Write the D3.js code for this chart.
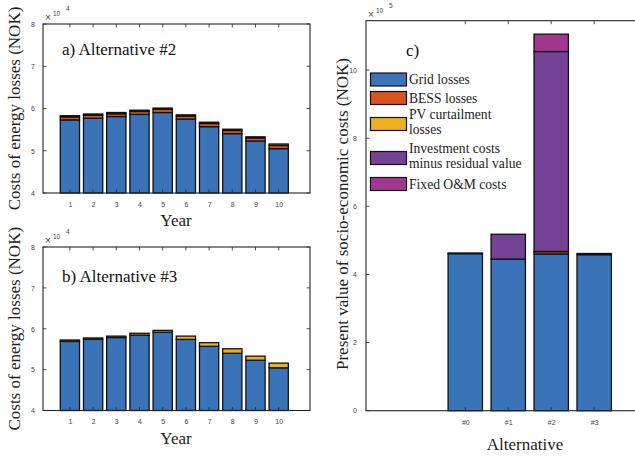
<!DOCTYPE html>
<html>
<head>
<meta charset="utf-8">
<script src="https://cdn.jsdelivr.net/npm/d3@7"></script>
<style>
  html, body { margin: 0; padding: 0; background: #fff; }
  svg { display: block; }
</style>
</head>
<body>
<svg id="chart" width="635" height="459"></svg>
<script>
// ---- data (NOK) ----
const years = [1, 2, 3, 4, 5, 6, 7, 8, 9, 10];

// Alternative #2, yearly energy-loss costs
const alt2Grid = [57300, 57700, 58100, 58600, 59050, 57500, 55700, 54050, 52300, 50500];
const alt2Bess = [700, 700, 650, 700, 750, 700, 750, 750, 700, 750];
const alt2Pv   = [300, 300, 300, 300, 300, 300, 300, 300, 300, 350];

// Alternative #3, yearly energy-loss costs
const alt3Grid = [56900, 57400, 57850, 58450, 59150, 57400, 55700, 54000, 52300, 50450];
const alt3Bess = [0, 0, 0, 0, 0, 0, 0, 0, 0, 0];
const alt3Pv   = [350, 350, 350, 450, 450, 800, 900, 1100, 1000, 1150];

// Present value of socio-economic costs per alternative
const alternatives = ["#0", "#1", "#2", "#3"];
const pvGrid   = [461000, 445000, 460000, 458000];
const pvBess   = [0, 0, 7000, 0];
const pvPvCurt = [2000, 0, 500, 3500];
const pvInvest = [0, 73000, 587000, 0];
const pvOm     = [0, 0, 51000, 0];

const yTicksLoss = [40000, 50000, 60000, 70000, 80000];
const yTicksPv = [0, 200000, 400000, 600000, 800000, 1000000];

const seriesNames = ["Grid losses", "BESS losses", "PV curtailment\nlosses",
                     "Investment costs\nminus residual value", "Fixed O&M costs"];
const seriesColors = ["#3b73b9", "#d9531e", "#edb120", "#744396", "#a2378f"];

// ---- styling ----
const serif = "'Liberation Serif', 'DejaVu Serif', serif";
const sans = "'Liberation Sans', Arial, sans-serif";
const axisCol = "#262626";
const tickTextCol = "#444";

const svg = d3.select("#chart");
svg.append("rect").attr("width", 635).attr("height", 459).attr("fill", "#fff");

function drawExponent(g, x0, top, exp) {
  g.append("text").attr("x", x0 + 2).attr("y", top - 3)
    .attr("font-family", sans).attr("font-size", 10).attr("fill", tickTextCol).text("×");
  g.append("text").attr("x", x0 + 10).attr("y", top - 8)
    .attr("font-family", sans).attr("font-size", 6.5).attr("fill", tickTextCol).text("10");
  g.append("text").attr("x", x0 + 23).attr("y", top - 13)
    .attr("font-family", sans).attr("font-size", 6.5).attr("fill", tickTextCol).text(exp);
}

function drawBox(g, x, y, tickXs, tickYs) {
  const [x0, x1] = x.range();
  const [y0, y1] = y.range(); // y0 bottom, y1 top
  const tl = 3.5;
  // inward ticks on all four sides
  tickXs.forEach(v => {
    const px = x(v);
    g.append("line").attr("x1", px).attr("x2", px).attr("y1", y0).attr("y2", y0 - tl)
      .attr("stroke", axisCol).attr("stroke-width", 0.8);
    g.append("line").attr("x1", px).attr("x2", px).attr("y1", y1).attr("y2", y1 + tl)
      .attr("stroke", axisCol).attr("stroke-width", 0.8);
  });
  tickYs.forEach(v => {
    const py = y(v);
    g.append("line").attr("x1", x0).attr("x2", x0 + tl).attr("y1", py).attr("y2", py)
      .attr("stroke", axisCol).attr("stroke-width", 0.8);
    g.append("line").attr("x1", x1).attr("x2", x1 - tl).attr("y1", py).attr("y2", py)
      .attr("stroke", axisCol).attr("stroke-width", 0.8);
  });
  g.append("rect").attr("x", x0).attr("y", y1).attr("width", x1 - x0).attr("height", y0 - y1)
    .attr("fill", "none").attr("stroke", axisCol).attr("stroke-width", 1.1);
}

function drawStackedBars(g, x, y, cats, layers, width) {
  const rows = cats.map((c, i) => {
    const r = { cat: c };
    layers.forEach((l, k) => { r["s" + k] = l[i]; });
    return r;
  });
  const keys = layers.map((_, k) => "s" + k);
  const stacked = d3.stack().keys(keys)(rows);
  const bw = x(width) - x(0);
  stacked.forEach((layer, k) => {
    g.append("g").selectAll("rect")
      .data(layer.filter(d => d[1] - d[0] > 0))
      .join("rect")
      .attr("x", d => x(d.data.cat) - bw / 2)
      .attr("width", bw)
      .attr("y", d => y(Math.max(d[1], y.domain()[0])))
      .attr("height", d => y(Math.max(d[0], y.domain()[0])) - y(Math.max(d[1], y.domain()[0])))
      .attr("fill", seriesColors[k])
      .attr("stroke", "#111")
      .attr("stroke-width", 1.3);
  });
}

// ---- panels a) and b): yearly losses ----
function lossPanel(top, bottom, grid, bess, pv, title, titleY) {
  const g = svg.append("g");
  const x = d3.scaleLinear().domain([-0.16, 11.35]).range([43, 310]);
  const y = d3.scaleLinear().domain([40000, 80000]).range([bottom, top]);

  drawStackedBars(g, x, y, years, [grid, bess, pv], 0.83);
  drawBox(g, x, y, years, yTicksLoss);

  const xAxis = d3.axisBottom(x).tickValues(years).tickSize(0).tickPadding(9);
  g.append("g").attr("transform", `translate(0,${bottom})`).call(xAxis)
    .call(s => s.select(".domain").remove())
    .selectAll("text").attr("font-family", sans).attr("font-size", 7).attr("fill", tickTextCol);
  const yAxis = d3.axisLeft(y).tickValues(yTicksLoss).tickSize(0).tickPadding(8)
    .tickFormat(v => d3.format("d")(v / 1e4));
  g.append("g").attr("transform", "translate(43,0)").call(yAxis)
    .call(s => s.select(".domain").remove())
    .selectAll("text").attr("font-family", sans).attr("font-size", 7).attr("fill", tickTextCol);

  drawExponent(g, 43, top, "4");

  g.append("text").attr("x", 62).attr("y", titleY)
    .attr("font-family", serif).attr("font-size", 17).attr("fill", "#111").text(title);
  g.append("text").attr("x", 176).attr("y", bottom + 33).attr("text-anchor", "middle")
    .attr("font-family", serif).attr("font-size", 17).attr("fill", "#222").text("Year");
  g.append("text")
    .attr("transform", `translate(20,${(top + bottom) / 2}) rotate(-90)`)
    .attr("text-anchor", "middle")
    .attr("font-family", serif).attr("font-size", 17).attr("fill", "#222")
    .text("Costs of energy losses (NOK)");
}

lossPanel(24, 193, alt2Grid, alt2Bess, alt2Pv, "a) Alternative #2", 55);
lossPanel(247, 410.5, alt3Grid, alt3Bess, alt3Pv, "b) Alternative #3", 282);

// ---- panel c): present value per alternative ----
(function () {
  const g = svg.append("g");
  const idx = alternatives.map((_, i) => i);
  const x = d3.scaleLinear().domain([-2.31, 5.09]).range([366, 684]);
  const y = d3.scaleLinear().domain([0, 1145000]).range([410.7, 20.7]);

  drawStackedBars(g, x, y, idx, [pvGrid, pvBess, pvPvCurt, pvInvest, pvOm], 0.8);
  drawBox(g, x, y, idx, yTicksPv);

  const xAxis = d3.axisBottom(x).tickValues(idx).tickSize(0).tickPadding(9)
    .tickFormat(i => alternatives[i]);
  g.append("g").attr("transform", "translate(0,410.7)").call(xAxis)
    .call(s => s.select(".domain").remove())
    .selectAll("text").attr("font-family", sans).attr("font-size", 7).attr("fill", tickTextCol);
  const yAxis = d3.axisLeft(y).tickValues(yTicksPv).tickSize(0).tickPadding(9)
    .tickFormat(v => d3.format("d")(v / 1e5));
  g.append("g").attr("transform", "translate(366,0)").call(yAxis)
    .call(s => s.select(".domain").remove())
    .selectAll("text").attr("font-family", sans).attr("font-size", 7).attr("fill", tickTextCol);

  drawExponent(g, 366, 20.7, "5");

  g.append("text").attr("x", 406).attr("y", 56)
    .attr("font-family", serif).attr("font-size", 17).attr("fill", "#111").text("c)");
  g.append("text").attr("x", 525).attr("y", 450).attr("text-anchor", "middle")
    .attr("font-family", serif).attr("font-size", 17).attr("fill", "#222").text("Alternative");
  g.append("text")
    .attr("transform", "translate(348,214) rotate(-90)")
    .attr("text-anchor", "middle")
    .attr("font-family", serif).attr("font-size", 17).attr("fill", "#222")
    .text("Present value of socio-economic costs (NOK)");

  // legend
  const patchTops = [73, 91.5, 117.5, 151.5, 177.5];
  const leg = g.append("g");
  seriesNames.forEach((name, k) => {
    leg.append("rect").attr("x", 370.5).attr("y", patchTops[k]).attr("width", 36).attr("height", 13)
      .attr("fill", seriesColors[k]).attr("stroke", "#111").attr("stroke-width", 1.2);
    const lines = name.split("\n");
    const t = leg.append("text").attr("font-family", serif).attr("font-size", 13.6).attr("fill", "#222");
    const firstBase = lines.length === 1 ? patchTops[k] + 11 : patchTops[k] + 1.5;
    lines.forEach((ln, j) => {
      t.append("tspan").attr("x", 409).attr("y", firstBase + j * 15).text(ln);
    });
  });
})();
</script>
</body>
</html>
